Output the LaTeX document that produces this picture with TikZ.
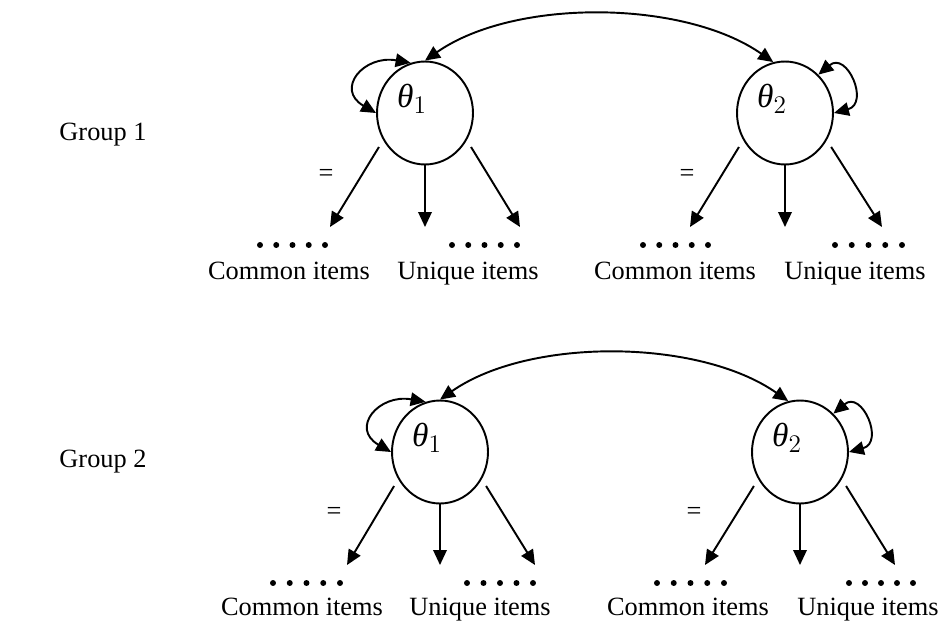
\documentclass[tikz,border=0pt]{standalone}
\usepackage{fontspec}
\setmainfont{Liberation Serif}
\usetikzlibrary{shapes,arrows.meta}

\tikzset{
  factor/.style={draw, ellipse, minimum width=1.92cm, minimum height=2.06cm, inner sep=0pt},
  load/.style={-{Triangle[length=0.3cm,width=0.27cm]}},
  cov/.style={{Triangle[length=0.3cm,width=0.27cm]}-{Triangle[length=0.3cm,width=0.27cm]}},
  items/.style={anchor=base},
}
\newcommand{\thet}[1]{\fontsize{19}{22}\selectfont$\textit{θ}_{#1}$}

\begin{document}
\begin{tikzpicture}[x=0.02cm, y=0.02cm, line width=1.1pt, font=\fontsize{15}{18}\selectfont]
         \useasboundingbox (0,0) rectangle (948,-626);
         % group 1
         \node (G1) at (103,-135) {Group 1};
         \node[factor] (T11) at (425,-113) {};
         \node[factor] (T12) at (785,-113) {};
         \node (L11) at (412,-99) {\thet{1}};
         \node (L12) at (772,-99) {\thet{2}};
         \node (E11) at (326,-175) {=};
         \node (E12) at (687,-175) {=};
         \coordinate (A11) at (330,-227);
         \coordinate (B11) at (425,-227);
         \coordinate (C11) at (520,-227);
         \coordinate (A12) at (690,-227);
         \coordinate (B12) at (785,-227);
         \coordinate (C12) at (882,-227);
         \draw [load, shorten <=0.16cm] (T11.213) -- (A11);
         \draw [load] (T11.south) -- (B11);
         \draw [load, shorten <=0.16cm] (T11.-33) -- (C11);
         \draw [load, shorten <=0.16cm] (T12.213) -- (A12);
         \draw [load] (T12.south) -- (B12);
         \draw [load, shorten <=0.16cm] (T12.-33) -- (C12);
         \draw [cov] (T11.106) to[out=170, in=150, looseness=2] (T11.west);
         \draw [cov] (T12.49) to[out=40, in=15, looseness=2.3] (T12.east);
         \draw [cov] (T11.north) to[out=35, in=145, looseness=0.8] (T12.103);
         \foreach \i in {0,...,4} {
           \fill ({260+16.25*\i},-245) circle (1.7pt);
           \fill ({452+16.25*\i},-245) circle (1.7pt);
           \fill ({643+16.25*\i},-245) circle (1.7pt);
           \fill ({835+16.75*\i},-245) circle (1.7pt);
         }
         \node[items] (CI11) at (289,-279) {Common items};
         \node[items] (UI11) at (468,-279) {Unique items};
         \node[items] (CI12) at (675,-279) {Common items};
         \node[items] (UI12) at (855,-279) {Unique items};
         % group 2
         \node (G2) at (103,-462) {Group 2};
         \node[factor] (T21) at (440,-452) {};
         \node[factor] (T22) at (800,-452) {};
         \node (L21) at (427,-438) {\thet{1}};
         \node (L22) at (787,-438) {\thet{2}};
         \node (E21) at (334,-513) {=};
         \node (E22) at (694,-513) {=};
         \coordinate (A21) at (347,-565);
         \coordinate (B21) at (440,-565);
         \coordinate (C21) at (535,-565);
         \coordinate (A22) at (705,-565);
         \coordinate (B22) at (800,-565);
         \coordinate (C22) at (895,-565);
         \draw [load, shorten <=0.16cm] (T21.213) -- (A21);
         \draw [load] (T21.south) -- (B21);
         \draw [load, shorten <=0.16cm] (T21.-33) -- (C21);
         \draw [load, shorten <=0.16cm] (T22.213) -- (A22);
         \draw [load] (T22.south) -- (B22);
         \draw [load, shorten <=0.16cm] (T22.-33) -- (C22);
         \draw [cov] (T21.106) to[out=170, in=150, looseness=2] (T21.west);
         \draw [cov] (T22.49) to[out=40, in=15, looseness=2.3] (T22.east);
         \draw [cov] (T21.north) to[out=35, in=145, looseness=0.8] (T22.103);
         \foreach \i in {0,...,4} {
           \fill ({273+16.75*\i},-583) circle (1.7pt);
           \fill ({467+16.5*\i},-583) circle (1.7pt);
           \fill ({657+16.75*\i},-583) circle (1.7pt);
           \fill ({849+16*\i},-583) circle (1.7pt);
         }
         \node[items] (CI21) at (302,-615) {Common items};
         \node[items] (UI21) at (480,-615) {Unique items};
         \node[items] (CI22) at (688,-615) {Common items};
         \node[items] (UI22) at (868,-615) {Unique items};
\end{tikzpicture}
\end{document}
